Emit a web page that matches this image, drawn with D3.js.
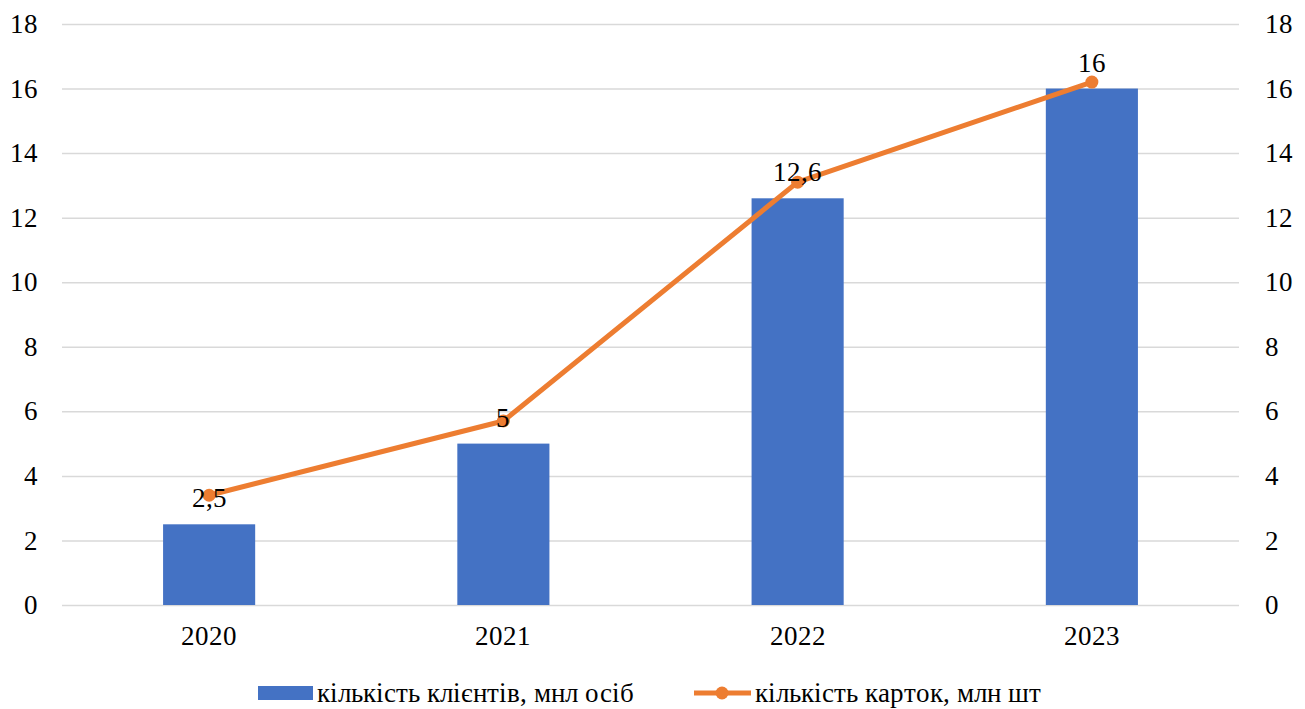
<!DOCTYPE html>
<html>
<head>
<meta charset="utf-8">
<script src="https://cdn.jsdelivr.net/npm/d3@7"></script>
<style>
  @font-face {
    font-family: "ChartSerif";
    src: local("Liberation Serif"), local("LiberationSerif"), local("LiberationSerif-Regular"), local("Liberation Serif Regular"), local("Times New Roman"), local("Tinos");
    font-weight: normal;
    font-style: normal;
  }
  html, body { margin: 0; padding: 0; background: #fff; font-family: "ChartSerif", "Liberation Serif", serif; }
  svg { display: block; }
  svg text { font-family: "ChartSerif", "Liberation Serif", "Times New Roman", serif; }
</style>
</head>
<body>
<svg id="chart" width="1305" height="709"></svg>
<script>
const years = ["2020", "2021", "2022", "2023"];
const clients = [2.5, 5, 12.6, 16];          // кількість клієнтів, мнл осіб (bars)
const cards = [3.4, 5.7, 13.1, 16.2];        // кількість карток, млн шт (line, secondary axis)
const yTicks = [0, 2, 4, 6, 8, 10, 12, 14, 16, 18];
const seriesNames = ["кількість клієнтів, мнл осіб", "кількість карток, млн шт"];

const svg = d3.select("#chart");
const plotLeft = 62, plotRight = 1239, plotTop = 24, plotBottom = 605;
const FONT = "ChartSerif, 'Liberation Serif', 'Times New Roman', serif";
const FS = "27px";

const x = d3.scaleBand().domain(years).range([plotLeft, plotRight]).paddingInner(0.687).paddingOuter(0.3435);
const xc = d3.scaleBand().domain(years).range([plotLeft, plotRight]);
const yL = d3.scaleLinear().domain([0, 18]).range([plotBottom, plotTop]);
const yR = d3.scaleLinear().domain([0, 18]).range([plotBottom, plotTop]);

const uk = d3.formatLocale({decimal: ",", thousands: " ", grouping: [3], currency: ["", " ₴"]});
const fmt = v => uk.format(",")(v);
const styleText = sel => sel.style("font-family", FONT).style("font-size", FS).attr("fill", "#000");
const fixAxisG = g => g.attr("font-family", null).attr("font-size", null);

// gridlines
svg.append("g")
  .attr("transform", `translate(${plotLeft},0)`)
  .call(d3.axisLeft(yL).tickValues(yTicks).tickSize(-(plotRight - plotLeft)).tickFormat(""))
  .call(fixAxisG)
  .call(g => g.select(".domain").remove())
  .call(g => g.selectAll("line").attr("stroke", "#d9d9d9").attr("stroke-width", 1.5));

// left axis labels
svg.append("g")
  .attr("transform", `translate(${plotLeft},0)`)
  .call(d3.axisLeft(yL).tickValues(yTicks).tickSize(0).tickPadding(24).tickFormat(fmt))
  .call(fixAxisG)
  .call(g => g.select(".domain").remove())
  .call(g => g.selectAll("text").call(styleText));

// right axis labels
svg.append("g")
  .attr("transform", `translate(${plotRight},0)`)
  .call(d3.axisRight(yR).tickValues(yTicks).tickSize(0).tickPadding(26).tickFormat(fmt))
  .call(fixAxisG)
  .call(g => g.select(".domain").remove())
  .call(g => g.selectAll("text").call(styleText));

// bottom axis labels
svg.append("g")
  .attr("transform", `translate(0,${plotBottom})`)
  .call(d3.axisBottom(xc).tickSize(0).tickPadding(21))
  .call(fixAxisG)
  .call(g => g.select(".domain").remove())
  .call(g => g.selectAll("text").call(styleText));

// bars
svg.append("g").selectAll("rect")
  .data(years.map((y, i) => ({year: y, v: clients[i]})))
  .join("rect")
  .attr("x", d => x(d.year))
  .attr("width", x.bandwidth())
  .attr("y", d => yL(d.v))
  .attr("height", d => yL(0) - yL(d.v))
  .attr("fill", "#4472C4");

// line
const lineData = years.map((y, i) => ({year: y, v: cards[i]}));
const line = d3.line().x(d => xc(d.year) + xc.bandwidth() / 2).y(d => yR(d.v));
svg.append("path")
  .datum(lineData)
  .attr("d", line)
  .attr("fill", "none")
  .attr("stroke", "#ED7D31")
  .attr("stroke-width", 5)
  .attr("stroke-linejoin", "round");
svg.append("g").selectAll("circle")
  .data(lineData)
  .join("circle")
  .attr("cx", d => xc(d.year) + xc.bandwidth() / 2)
  .attr("cy", d => yR(d.v))
  .attr("r", 6.5)
  .attr("fill", "#ED7D31");

// data labels (bar values)
svg.append("g").selectAll("text")
  .data(years.map((y, i) => ({year: y, v: clients[i]})))
  .join("text")
  .attr("x", d => x(d.year) + x.bandwidth() / 2)
  .attr("y", d => yL(d.v) - 17)
  .attr("text-anchor", "middle")
  .call(styleText)
  .text(d => fmt(d.v));

// legend
const lg = svg.append("g");
lg.append("rect").attr("x", 258).attr("y", 686).attr("width", 55).attr("height", 14).attr("fill", "#4472C4");
lg.append("text").attr("x", 317).attr("y", 702).call(styleText).text(seriesNames[0]);
lg.append("line").attr("x1", 694).attr("x2", 751).attr("y1", 693).attr("y2", 693)
  .attr("stroke", "#ED7D31").attr("stroke-width", 5);
lg.append("circle").attr("cx", 722).attr("cy", 693).attr("r", 6.5).attr("fill", "#ED7D31");
lg.append("text").attr("x", 755).attr("y", 702).call(styleText).text(seriesNames[1]);
</script>
</body>
</html>
